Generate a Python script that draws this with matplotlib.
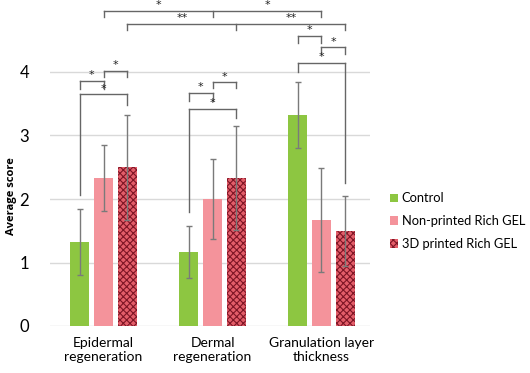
import matplotlib.pyplot as plt
import numpy as np

plt.rcParams['font.family'] = ['Lato', 'DejaVu Sans']
plt.rcParams['hatch.linewidth'] = 0.8

# data
categories = ['Epidermal\nregeneration', 'Dermal\nregeneration', 'Granulation layer\nthickness']
series = ['Control', 'Non-printed Rich GEL', '3D printed Rich GEL']
control = [1.33, 1.17, 3.33]
control_err = [0.52, 0.41, 0.52]
nonprinted = [2.33, 2.00, 1.67]
nonprinted_err = [0.52, 0.63, 0.82]
printed = [2.50, 2.33, 1.50]
printed_err = [0.83, 0.82, 0.55]

# significance brackets: (group, bar) of each leg, bracket height, leg bottoms, label
brackets = [
    ([(0, 1), (1, 1), (2, 1)], 4.96, [4.87, 4.87, 4.87], ['*', '*']),
    ([(0, 2), (1, 2), (2, 2)], 4.76, [4.66, 4.66, 4.66], ['**', '**']),
    ([(0, 1), (0, 2)], 4.02, [3.92, 3.92], ['*']),
    ([(0, 0), (0, 1)], 3.86, [3.73, 3.73], ['*']),
    ([(0, 0), (0, 2)], 3.65, [2.06, 3.48], ['*']),
    ([(1, 1), (1, 2)], 3.84, [3.75, 3.75], ['*']),
    ([(1, 0), (1, 1)], 3.67, [3.54, 3.54], ['*']),
    ([(1, 0), (1, 2)], 3.42, [1.80, 3.28], ['*']),
    ([(2, 0), (2, 1)], 4.57, [4.46, 4.46], ['*']),
    ([(2, 1), (2, 2)], 4.39, [4.28, 4.28], ['*']),
    ([(2, 0), (2, 2)], 4.14, [4.00, 2.25], ['*']),
]

colors = ['#8DC641', '#F4939B', '#E35D69']
step = 0.22
width = 0.175
x = np.arange(len(categories))

fig = plt.figure(figsize=(5.3, 3.73), dpi=100)
ax = fig.add_axes([50/530, 47/373, 320/530, 326/373])

ecfg = dict(ecolor='#7A7A7A', elinewidth=1, capsize=2, capthick=1)
ax.bar(x - step, control, width, yerr=control_err, color=colors[0], label=series[0],
       error_kw=ecfg, zorder=2)
ax.bar(x, nonprinted, width, yerr=nonprinted_err, color=colors[1], label=series[1],
       error_kw=ecfg, zorder=2)
ax.bar(x + step, printed, width, yerr=printed_err, color=colors[2], label=series[2],
       edgecolor='#7E1525', linewidth=0, hatch='xxxxx', error_kw=ecfg, zorder=2)

def xpos(g, b):
    return g + (b - 1) * step

for legs, top, bottoms, labels in brackets:
    xs = [xpos(g, b) for g, b in legs]
    ax.plot([xs[0], xs[-1]], [top, top], color='#666666', lw=1, zorder=3, clip_on=False)
    for xx, bot in zip(xs, bottoms):
        ax.plot([xx, xx], [top, bot], color='#666666', lw=1, zorder=3, clip_on=False)
    for i, lab in enumerate(labels):
        ax.text((xs[i] + xs[i + 1]) / 2, top + 0.01, lab, ha='center', va='bottom',
                fontsize=8, family='DejaVu Sans', color='#222222')

ax.set_xlim(-0.491, 2.445)
ax.set_ylim(0, 326/63.5)
ax.set_yticks([0, 1, 2, 3, 4])
ax.set_yticklabels(['0', '1', '2', '3', '4'], fontsize=12)
ax.set_xticks(x)
ax.set_xticklabels(categories, fontsize=10, linespacing=1.2)
ax.tick_params(length=0, pad=8)
ax.tick_params(axis='y', pad=15)
ax.grid(axis='y', color='#D9D9D9', lw=1, zorder=0)
for s in ax.spines.values():
    s.set_visible(False)
ax.set_ylabel('Average score', fontsize=8, fontweight='bold', family='Open Sans')
ax.yaxis.set_label_coords(-0.104, 0.40)

ax.legend(loc='upper left', bbox_to_anchor=(385/530, 1 - 187/373), bbox_transform=fig.transFigure,
          frameon=False, fontsize=9.3, handlelength=0.6, handleheight=0.6,
          handletextpad=0.3, labelspacing=0.85, borderaxespad=0)

fig.savefig('out.png', dpi=100)
